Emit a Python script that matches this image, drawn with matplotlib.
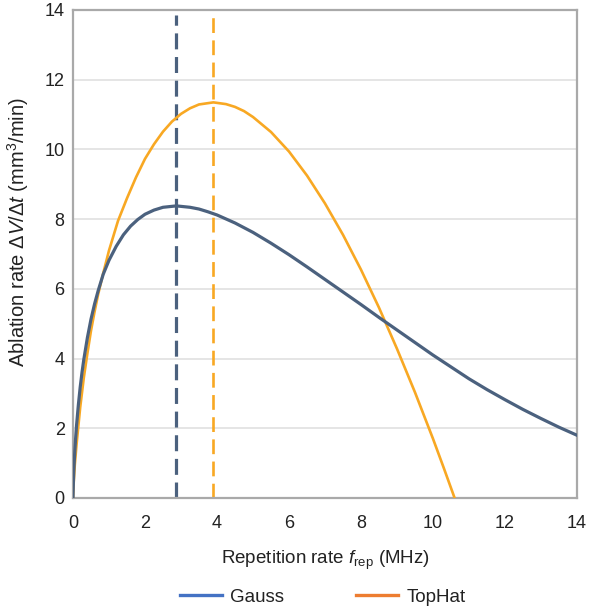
import matplotlib
matplotlib.use("Agg")
import matplotlib.pyplot as plt
from matplotlib.lines import Line2D

plt.rcParams["font.family"] = ["Liberation Sans", "DejaVu Sans"]
plt.rcParams["mathtext.fontset"] = "custom"
plt.rcParams["mathtext.rm"] = "Liberation Sans"
plt.rcParams["mathtext.it"] = "Liberation Sans:italic"
plt.rcParams["mathtext.bf"] = "Liberation Sans:bold"

# Ablation rate (mm^3/min) versus repetition rate (MHz)
gauss_f = [0, 0.01, 0.02, 0.03, 0.05, 0.07, 0.1, 0.15, 0.2, 0.25, 0.3, 0.4,
           0.5, 0.6, 0.7, 0.84, 1.0, 1.2, 1.4, 1.6, 1.8, 2.0, 2.25, 2.5, 2.87,
           3.25, 3.5, 3.75, 4.0, 4.5, 5.0, 5.5, 6.0, 6.5, 7.0, 7.5, 8.0, 8.5,
           9.0, 9.5, 10.0, 10.5, 11.0, 11.5, 12.0, 12.5, 13.0, 13.5, 14.0]
gauss_rate = [0, 0.43, 0.71, 0.94, 1.34, 1.67, 2.10, 2.68, 3.18, 3.60, 3.97,
              4.60, 5.13, 5.57, 5.95, 6.42, 6.82, 7.22, 7.55, 7.80, 7.99,
              8.14, 8.26, 8.34, 8.38, 8.34, 8.29, 8.21, 8.12, 7.89, 7.62,
              7.31, 6.98, 6.63, 6.27, 5.91, 5.55, 5.18, 4.82, 4.46, 4.10,
              3.76, 3.42, 3.11, 2.82, 2.54, 2.28, 2.03, 1.80]

tophat_f = [0, 0.02, 0.05, 0.1, 0.2, 0.3, 0.4, 0.5, 0.6, 0.7, 0.84, 1.0,
            1.25, 1.5, 1.75, 2.0, 2.25, 2.5, 2.75, 3.0, 3.25, 3.5, 3.9, 4.25,
            4.5, 4.75, 5.0, 5.5, 6.0, 6.5, 7.0, 7.5, 8.0, 8.5, 9.0, 9.5,
            10.0, 10.3, 10.6]
tophat_rate = [0, 0.45, 0.95, 1.55, 2.60, 3.45, 4.15, 4.80, 5.35, 5.85, 6.45,
               7.10, 7.95, 8.60, 9.20, 9.73, 10.15, 10.51, 10.80, 11.02,
               11.18, 11.29, 11.35, 11.30, 11.22, 11.10, 10.93, 10.50, 9.94,
               9.25, 8.45, 7.55, 6.55, 5.46, 4.28, 3.03, 1.70, 0.86, 0]

# Repetition rates of maximum ablation rate
gauss_opt = 2.87
tophat_opt = 3.9

x_ticks = [0, 2, 4, 6, 8, 10, 12, 14]
y_ticks = [0, 2, 4, 6, 8, 10, 12, 14]
series_names = ["Gauss", "TopHat"]

gauss_color = "#4b617e"
tophat_color = "#f8a823"
legend_colors = ["#4472c4", "#ed7d31"]
text_color = "#222222"

fig = plt.figure(figsize=(5.99, 6.12), dpi=100)
ax = fig.add_axes([73 / 599, 1 - 498 / 612, 504 / 599, 488 / 612])

ax.set_xlim(0, 14)
ax.set_ylim(0, 14)
ax.set_xticks(x_ticks)
ax.set_yticks(y_ticks)
ax.tick_params(length=0, labelsize=13, labelcolor=text_color)
ax.tick_params(axis="x", pad=12)
ax.tick_params(axis="y", pad=6)
ax.grid(axis="y", color="#e3e3e3", linewidth=1.3)
ax.set_axisbelow(True)
for s in ax.spines.values():
    s.set_color("#a9a9a9")
    s.set_linewidth(1.6)

ax.axvline(gauss_opt, ymin=0, ymax=0.99, color=gauss_color, lw=2.3,
           dashes=(5.0, 2.4), zorder=2)
ax.axvline(tophat_opt, ymin=0, ymax=0.99, color=tophat_color, lw=1.9,
           dashes=(5.6, 2.8), zorder=2)

ax.plot(tophat_f, tophat_rate, color=tophat_color, lw=1.9, zorder=3,
        solid_joinstyle="round")
ax.plot(gauss_f, gauss_rate, color=gauss_color, lw=2.3, zorder=4,
        solid_joinstyle="round")

ax.set_xlabel(r"Repetition rate $f_{\mathrm{rep}}$ (MHz)", fontsize=13.5,
              color=text_color, labelpad=12)
ax.set_ylabel(r"Ablation rate $\Delta V/\Delta t$ (mm$^3$/min)", fontsize=14.5,
              color=text_color)
ax.yaxis.set_label_coords(-0.083, 0.545)

handles = [Line2D([], [], color=c, lw=2.4) for c in legend_colors]
fig.legend(handles, series_names, loc="center", ncol=2,
           bbox_to_anchor=(323 / 599, 15 / 612), frameon=False, fontsize=13.5,
           handlelength=2.24, handletextpad=0.43, columnspacing=3.84,
           labelcolor=text_color)

fig.savefig("out.png", dpi=100, facecolor="white")
